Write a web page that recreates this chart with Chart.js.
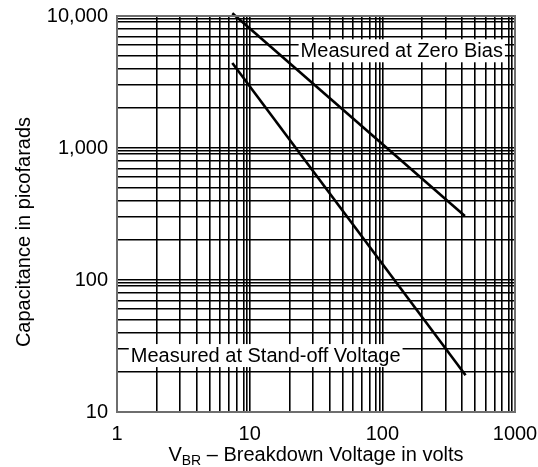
<!DOCTYPE html>
<html>
<head>
<meta charset="utf-8">
<script src="https://cdn.jsdelivr.net/npm/chart.js@4.4.1/dist/chart.umd.min.js"></script>
<style>
  html, body { margin: 0; padding: 0; background: #fff; }
  #wrap { width: 538px; height: 467px; }
</style>
</head>
<body>
<div id="wrap"><canvas id="capChart"></canvas></div>
<script>
// values (log-log, both lines straight)
const zeroBiasVolts = [7.4, 419];
const zeroBiasPf = [10500, 305];
const standoffVolts = [7.4, 424];
const standoffPf = [4400, 19];

const xTickLabels = { 1: "1", 10: "10", 100: "100", 1000: "1000" };
const yTickLabels = { 10: "10", 100: "100", 1000: "1,000", 10000: "10,000" };
const gridSteps = [1, 2, 3, 4, 5, 6, 7, 8, 9, 9.5];

const noteTexts = ["Measured at Zero Bias", "Measured at Stand-off Voltage"];
const noteVolts = [811, 1.27];
const notePf = [5500, 27];
const noteAlign = ["right", "left"];

const FONT = "'Liberation Sans', Arial, sans-serif";
const FONT_SIZE = 20;

function decadeTicks(min, max){
  const out = [];
  for(let d = min; d < max; d *= 10){
    gridSteps.forEach(s => out.push({ value: d * s }));
  }
  out.push({ value: max });
  return out;
}

function toPoints(xs, ys){
  return xs.map((x, i) => ({ x, y: ys[i] }));
}

const extras = {
  id: "extras",
  afterDatasetsDraw(chart){
    const ctx = chart.ctx;
    const xs = chart.scales.x, ys = chart.scales.y;
    ctx.save();
    ctx.font = `${FONT_SIZE}px ${FONT}`;
    ctx.textBaseline = "middle";
    noteTexts.forEach((t, i) => {
      const w = ctx.measureText(t).width;
      const px = xs.getPixelForValue(noteVolts[i]);
      const py = ys.getPixelForValue(notePf[i]);
      const left = noteAlign[i] === "right" ? px - w : px;
      ctx.fillStyle = "#fff";
      ctx.fillRect(left - 2, py - 11, w + 4, 23);
      ctx.fillStyle = "#000";
      ctx.textAlign = "left";
      ctx.fillText(t, left, py + 1);
    });
    ctx.restore();
  },
  afterDraw(chart){
    const ctx = chart.ctx;
    const a = chart.chartArea;
    ctx.save();
    // frame
    ctx.strokeStyle = "#6e6e6e";
    ctx.lineWidth = 2;
    ctx.strokeRect(a.left, a.top, a.right - a.left, a.bottom - a.top);

    // y title
    ctx.fillStyle = "#000";
    ctx.font = `${FONT_SIZE}px ${FONT}`;
    ctx.textAlign = "center";
    ctx.textBaseline = "middle";
    ctx.translate(24, 232);
    ctx.rotate(-Math.PI / 2);
    ctx.fillText("Capacitance in picofarads", 0, 0);
    ctx.restore();

    // x title with subscript
    ctx.save();
    ctx.fillStyle = "#000";
    ctx.textBaseline = "alphabetic";
    ctx.textAlign = "left";
    const big = `${FONT_SIZE}px ${FONT}`, small = `14px ${FONT}`;
    const parts = [["V", big, 0], ["BR", small, 4], [" \u2013 Breakdown Voltage in volts", big, 0]];
    let total = 0;
    parts.forEach(p => { ctx.font = p[1]; total += ctx.measureText(p[0]).width; });
    let x = (a.left + a.right) / 2 - total / 2;
    parts.forEach(p => {
      ctx.font = p[1];
      ctx.fillText(p[0], x, 461 + p[2]);
      x += ctx.measureText(p[0]).width;
    });
    ctx.restore();
  }
};

const tickFont = { family: FONT, size: FONT_SIZE };

new Chart(document.getElementById("capChart"), {
  type: "line",
  data: {
    datasets: [
      { label: "Zero Bias", data: toPoints(zeroBiasVolts, zeroBiasPf) },
      { label: "Stand-off", data: toPoints(standoffVolts, standoffPf) }
    ]
  },
  options: {
    responsive: true,
    maintainAspectRatio: false,
    animation: false,
    layout: { padding: { top: 16, right: 23, left: 0, bottom: 0 } },
    elements: {
      line: { borderColor: "#000", borderWidth: 2.6, tension: 0 },
      point: { radius: 0 }
    },
    datasets: { line: { clip: false } },
    plugins: { legend: { display: false }, tooltip: { enabled: false } },
    scales: {
      x: {
        type: "logarithmic", min: 1, max: 1000,
        grid: { color: "#000", lineWidth: 1.6, drawTicks: false },
        border: { display: false },
        afterBuildTicks: s => { s.ticks = decadeTicks(1, 1000); },
        afterFit: s => { s.height = 55; s.paddingLeft = 0; s.paddingRight = 0; },
        ticks: {
          autoSkip: false, maxRotation: 0, minRotation: 0, padding: 10,
          color: "#000", font: tickFont,
          callback: v => xTickLabels[v] ?? ""
        }
      },
      y: {
        type: "logarithmic", min: 10, max: 10000,
        grid: { color: "#000", lineWidth: 1.6, drawTicks: false },
        border: { display: false },
        afterBuildTicks: s => { s.ticks = decadeTicks(10, 10000); },
        afterFit: s => { s.width = 117; s.paddingTop = 0; s.paddingBottom = 0; },
        ticks: {
          autoSkip: false, padding: 9,
          color: "#000", font: tickFont,
          callback: v => yTickLabels[v] ?? ""
        }
      }
    }
  },
  plugins: [extras]
});
</script>
</body>
</html>
